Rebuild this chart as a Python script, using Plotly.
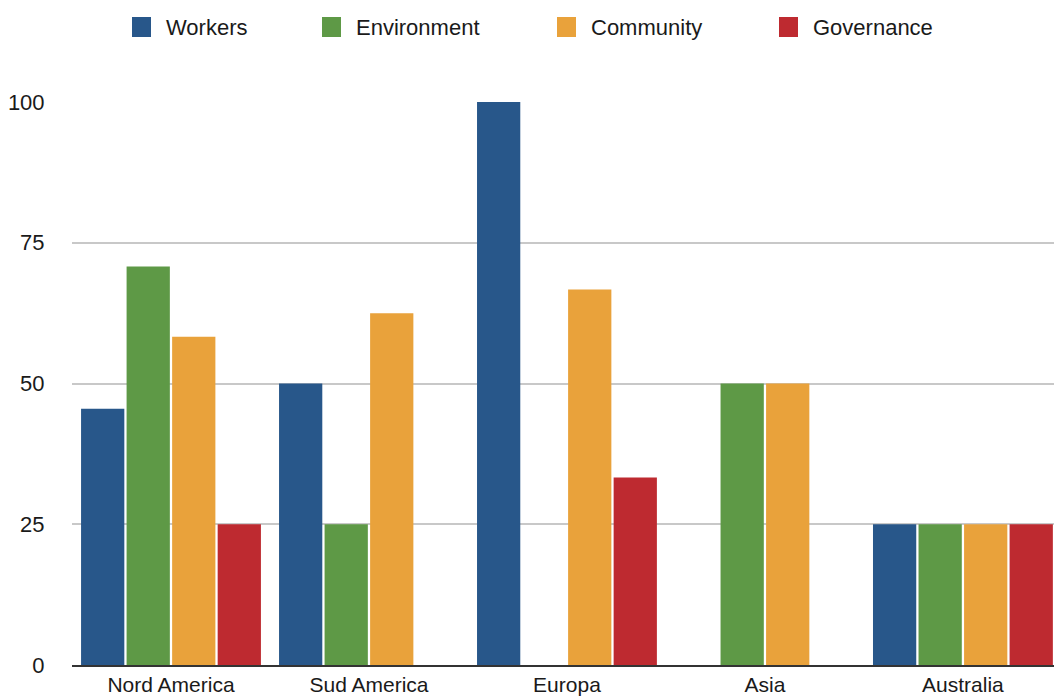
import plotly.graph_objects as go

categories = ["Nord America", "Sud America", "Europa", "Asia", "Australia"]
series_names = ["Workers", "Environment", "Community", "Governance"]
workers = [45.5, 50, 100, 0, 25]
environment = [70.8, 25, 0, 50, 25]
community = [58.3, 62.5, 66.7, 50, 25]
governance = [25, 0, 33.3, 0, 25]
colors = ["#28578A", "#5E9946", "#E9A23B", "#BE2A30"]
y_ticks = [0, 25, 50, 75, 100]

values = [workers, environment, community, governance]

W, H = 1054, 699
ML, MR, MT, MB = 72, 0, 102, 34
PW, PH = W - ML - MR, H - MT - MB

def px_x(p):
    return (p - ML) / PW

def px_y(p):
    return (H - MB - p) / PH

FONT = "Liberation Sans, Arial, Helvetica, sans-serif"
TXT = "#1a1a1a"

fig = go.Figure()
for name, vals, col in zip(series_names, values, colors):
    fig.add_trace(go.Bar(
        x=categories, y=vals, name=name,
        marker=dict(color=col, line=dict(width=0)),
        showlegend=False,
    ))

# manual legend
legend_marker_x = [132, 322, 557, 779]
shapes = []
annotations = []
for name, col, mx in zip(series_names, colors, legend_marker_x):
    shapes.append(dict(type="rect", xref="paper", yref="paper",
                       x0=px_x(mx), x1=px_x(mx + 19), y0=px_y(37), y1=px_y(17),
                       fillcolor=col, line=dict(width=0)))
    annotations.append(dict(xref="paper", yref="paper", x=px_x(mx + 32), y=px_y(27),
                            text=name, showarrow=False, xanchor="left", yanchor="middle",
                            font=dict(family=FONT, size=22, color=TXT)))

fig.update_layout(
    width=W, height=H,
    margin=dict(l=ML, r=MR, t=MT, b=MB, pad=0),
    paper_bgcolor="white", plot_bgcolor="white",
    barmode="group", bargap=0.08, bargroupgap=0.05,
    font=dict(family=FONT, size=22, color=TXT),
    shapes=shapes, annotations=annotations,
    xaxis=dict(range=[-0.5, 4.46], showgrid=False, showline=True,
               linecolor="#333333", linewidth=2, ticks="", ticklen=0,
               automargin=False, fixedrange=True,
               tickfont=dict(family=FONT, size=21, color=TXT)),
    yaxis=dict(range=[0, 100], tickvals=y_ticks, showgrid=True, gridcolor="#C8C8C8",
               gridwidth=1.5, zeroline=False, showline=False, ticks="outside",
               ticklen=22, tickcolor="rgba(0,0,0,0)", automargin=False,
               tickfont=dict(family=FONT, size=22, color=TXT)),
)

fig.write_html("out.html", config={"displayModeBar": False})
